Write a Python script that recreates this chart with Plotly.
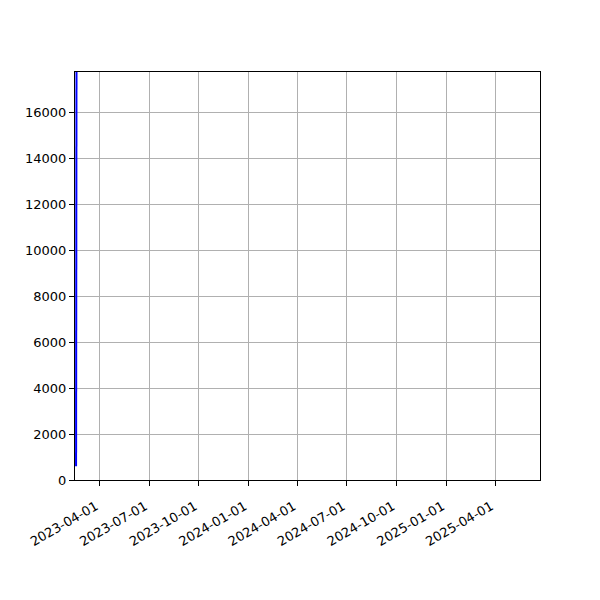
import plotly.graph_objects as go

# series (nearly all points fall within a couple of days at the start)
dates = ["2023-02-16 00:00", "2023-02-16 06:00", "2023-02-16 12:00", "2023-02-16 18:00"]
values = [600, 5200, 11800, 17740]

# axes
x_range = ["2023-02-14", "2025-06-23"]
y_range = [0, 17740]
x_ticks = ["2023-04-01", "2023-07-01", "2023-10-01", "2024-01-01", "2024-04-01",
           "2024-07-01", "2024-10-01", "2025-01-01", "2025-04-01"]
y_ticks = [0, 2000, 4000, 6000, 8000, 10000, 12000, 14000, 16000]

fig = go.Figure()
fig.add_trace(go.Scatter(
    x=dates, y=values, mode="lines",
    line=dict(color="#0000ff", width=2),
    showlegend=False,
))

axis_style = dict(
    showline=True, linecolor="black", linewidth=1, mirror=True,
    showgrid=True, gridcolor="#b0b0b0", gridwidth=1,
    ticks="outside", ticklen=5, tickcolor="black", tickwidth=1,
    zeroline=False,
)

fig.update_xaxes(
    type="date", range=x_range,
    tickvals=x_ticks, ticktext=x_ticks, tickangle=-30,
    ticklabelshift=-4, ticklabelstandoff=8,
    **axis_style,
)
fig.update_yaxes(
    range=y_range, tickvals=y_ticks, ticktext=[str(v) for v in y_ticks],
    **axis_style,
)

# page body adds an 8px margin, so offsets are trimmed accordingly
fig.update_layout(
    width=600, height=600,
    margin=dict(l=67, r=68, t=64, b=128),
    paper_bgcolor="white", plot_bgcolor="white",
    font=dict(family="DejaVu Sans", size=13, color="black"),
)

fig.write_html("out.html")
